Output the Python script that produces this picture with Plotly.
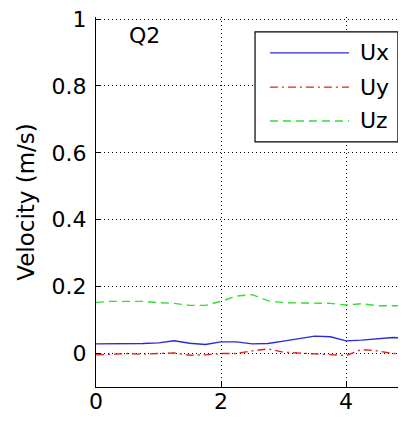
import plotly.graph_objects as go

t = [0, 0.25, 0.5, 0.75, 1.0, 1.25, 1.5, 1.75, 2.0, 2.25, 2.5, 2.75, 3.0,
     3.25, 3.5, 3.75, 4.0, 4.25, 4.5, 4.75, 5.0]
ux = [0.029, 0.029, 0.029, 0.030, 0.032, 0.038, 0.031, 0.027, 0.035, 0.035,
      0.029, 0.030, 0.037, 0.045, 0.052, 0.050, 0.038, 0.040, 0.043, 0.048, 0.045]
uy = [-0.004, -0.002, 0.000, -0.002, -0.001, 0.002, -0.005, -0.004, 0.000, 0.000,
      0.008, 0.014, 0.004, 0.001, 0.000, -0.004, -0.006, 0.012, 0.008, 0.000, 0.002]
uz = [0.153, 0.156, 0.156, 0.156, 0.152, 0.150, 0.144, 0.144, 0.156, 0.172,
      0.176, 0.158, 0.152, 0.151, 0.151, 0.150, 0.145, 0.149, 0.143, 0.143, 0.143]

names = ["Ux", "Uy", "Uz"]
colors = ["#2a2ad6", "#dd2222", "#33dd33"]
dashes = ["solid", "8px,4px,2px,4px", "8px,5px"]
series = [ux, uy, uz]

x_ticks = [0, 2, 4]
y_ticks = [0, 0.2, 0.4, 0.6, 0.8, 1]
y_ticklabels = ["0", "0.2", "0.4", "0.6", "0.8", "1"]

FONT = "DejaVu Sans"
Y_RANGE = [-0.1, 1.006]

fig = go.Figure()
for n, c, d, s in zip(names, colors, dashes, series):
    fig.add_trace(go.Scatter(x=t, y=s, mode="lines", name=n,
                             line=dict(color=c, width=1.4, dash=d),
                             showlegend=False))

def py(v):
    """y value on the velocity scale -> paper fraction"""
    return (v - Y_RANGE[0]) / (Y_RANGE[1] - Y_RANGE[0])

# manual legend (box, sample lines, labels)
fig.add_shape(type="rect", xref="paper", yref="paper", x0=0.513, x1=0.974,
              y0=py(0.6326), y1=py(0.9615),
              line=dict(color="black", width=1.2), fillcolor="white", layer="above")
rows = [0.8988, 0.7965, 0.6953]
for n, c, d, ry in zip(names, colors, dashes, rows):
    fig.add_shape(type="line", xref="paper", yref="paper", x0=0.561, x1=0.816, y0=py(ry), y1=py(ry),
                  line=dict(color=c, width=1.4, dash=d), layer="above")
    fig.add_annotation(xref="paper", yref="paper", x=0.845, y=py(ry), text=n, showarrow=False,
                       xanchor="left", yanchor="middle",
                       font=dict(family=FONT, size=22, color="black"))

fig.add_annotation(xref="paper", yref="paper", x=0.155, y=py(0.9494), text="Q2", showarrow=False,
                   xanchor="center", yanchor="middle",
                   font=dict(family=FONT, size=22, color="black"))

axis_common = dict(showgrid=True, gridcolor="black", griddash="1px,3px", gridwidth=1,
                   zeroline=False, showline=True, linecolor="black", linewidth=1.2,
                   ticks="inside", ticklen=5, tickcolor="black", mirror=False,
                   ticklabeloverflow="allow",
                   tickfont=dict(family=FONT, size=22, color="black"))

fig.update_xaxes(range=[0, 4.96], tickvals=x_ticks, ticktext=[str(v) for v in x_ticks],
                 ticklabelstandoff=-6, **axis_common)
fig.update_yaxes(range=Y_RANGE, tickvals=y_ticks, ticktext=y_ticklabels,
                 ticklabelstandoff=4,
                 title=dict(text="Velocity (m/s)", font=dict(family=FONT, size=23, color="black"),
                            standoff=10),
                 **axis_common)

# page body has an 8px margin, so the figure is sized to fill the rest of the window
fig.update_layout(width=398, height=413, margin=dict(l=88, r=0, t=9, b=34, autoexpand=False),
                  plot_bgcolor="white", paper_bgcolor="white",
                  font=dict(family=FONT, size=22, color="black"))

fig.write_html("out.html")
